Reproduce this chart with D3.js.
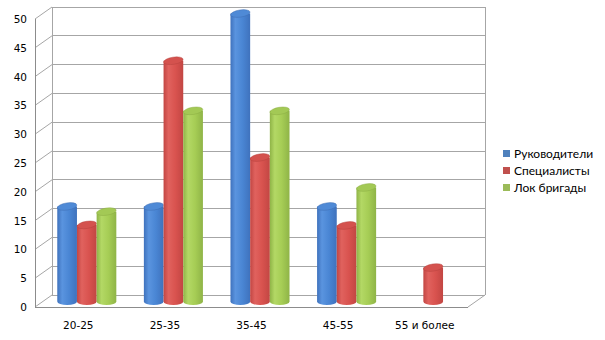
<!DOCTYPE html>
<html><head><meta charset="utf-8">
<script src="https://cdn.jsdelivr.net/npm/d3@7"></script>
<style>body{margin:0;background:#fff}svg{display:block}</style>
</head><body>
<svg id="c" width="605" height="340"></svg>
<script>
const categories = ["20-25", "25-35", "35-45", "45-55", "55 и более"];
const seriesNames = ["Руководители", "Специалисты", "Лок бригады"];
const rukovoditeli = [16.5, 16.5, 50, 16.5, 0];
const specialisty = [13.3, 41.8, 25, 13.2, 5.9];
const lokBrigady = [15.6, 33.1, 33.1, 19.8, 0];
const yTicks = [0, 5, 10, 15, 20, 25, 30, 35, 40, 45, 50];
const seriesValues = [rukovoditeli, specialisty, lokBrigady];
const colors = [
  {base:"#4F81BD", dark:"#3f72bd", mid:"#4a86d4", light:"#5a94df", top:"#4f8ad6", edge:"#3a69ad"},
  {base:"#C0504D", dark:"#c24643", mid:"#d9534f", light:"#e0625e", top:"#d4524e", edge:"#b03f3c"},
  {base:"#9BBB59", dark:"#8fb447", mid:"#a6cd55", light:"#b3d865", top:"#a3c955", edge:"#86a83f"}
];

const svg = d3.select("#c");
const front = {x0: 35, x1: 468, y0: 307, y1: 19};
const depth = {dx: 17, dy: -12};
const yFront = d3.scaleLinear().domain([0, 50]).range([front.y0, front.y1]);
const yBack = v => yFront(v) + depth.dy;
const yMid = v => yFront(v) + depth.dy / 2 + 0.5;
const x = d3.scaleBand().domain(categories).range([front.x0, front.x1]).paddingInner(0).paddingOuter(0);
const inner = d3.scaleBand().domain(d3.range(3)).range([0, x.bandwidth()]).paddingInner(0).paddingOuter(0.7);

const grid = "#a6a6a6";
const g = svg.append("g");
yTicks.forEach(t => {
  g.append("line").attr("x1", front.x0 + depth.dx).attr("x2", front.x1 + depth.dx)
    .attr("y1", yBack(t)).attr("y2", yBack(t)).attr("stroke", grid).attr("stroke-width", 1).attr("shape-rendering","crispEdges");
  g.append("line").attr("x1", front.x0).attr("y1", yFront(t)).attr("x2", front.x0 + depth.dx).attr("y2", yBack(t))
    .attr("stroke", grid).attr("stroke-width", 1);
});
g.append("line").attr("x1", front.x0 + depth.dx).attr("x2", front.x0 + depth.dx).attr("y1", yBack(0)).attr("y2", yBack(50)).attr("stroke", grid).attr("shape-rendering","crispEdges");
g.append("line").attr("x1", front.x1 + depth.dx).attr("x2", front.x1 + depth.dx).attr("y1", yBack(0)).attr("y2", yBack(50)).attr("stroke", grid).attr("shape-rendering","crispEdges");
g.append("line").attr("x1", front.x0).attr("x2", front.x0).attr("y1", yFront(0)).attr("y2", yFront(50)).attr("stroke", "#8c8c8c").attr("shape-rendering","crispEdges");
g.append("line").attr("x1", front.x0).attr("x2", front.x1).attr("y1", yFront(0)).attr("y2", yFront(0)).attr("stroke", "#8c8c8c").attr("shape-rendering","crispEdges");
g.append("line").attr("x1", front.x1).attr("y1", yFront(0)).attr("x2", front.x1 + depth.dx).attr("y2", yBack(0)).attr("stroke", grid);

g.selectAll(".yl").data(yTicks).enter().append("text")
  .attr("x", 27).attr("y", d => yFront(d) + 4).attr("text-anchor", "end")
  .attr("font-family", "DejaVu Sans").attr("font-size", 10.5).attr("fill", "#000").text(d => d);
g.selectAll(".xl").data(categories).enter().append("text")
  .attr("x", d => x(d) + x.bandwidth() / 2).attr("y", 329).attr("text-anchor", "middle")
  .attr("font-family", "DejaVu Sans").attr("font-size", 10.5).attr("fill", "#000").text(d => d);

const defs = svg.append("defs");
colors.forEach((c, i) => {
  const gr = defs.append("linearGradient").attr("id", "g" + i).attr("x1", "0").attr("x2", "1").attr("y1", "0").attr("y2", "0");
  gr.append("stop").attr("offset", "0").attr("stop-color", c.dark);
  gr.append("stop").attr("offset", "0.25").attr("stop-color", c.light);
  gr.append("stop").attr("offset", "0.6").attr("stop-color", c.mid);
  gr.append("stop").attr("offset", "1").attr("stop-color", c.dark);
});

const ry = 3.6;
const bars = g.append("g");
categories.forEach((cat, ci) => {
  seriesValues.forEach((vals, si) => {
    const v = vals[ci];
    if (!v) return;
    const w = inner.bandwidth();
    const xl = x(cat) + inner(si) + depth.dx / 2;
    const rx = w / 2;
    const cx = xl + rx;
    const yb = yMid(0), yt = yMid(v);
    const path = `M${xl},${yt} L${xl},${yb} A${rx},${ry} 0 0 0 ${xl + w},${yb} L${xl + w},${yt} Z`;
    bars.append("path").attr("d", path).attr("fill", `url(#g${si})`);
    bars.append("ellipse").attr("cx", cx).attr("cy", yt).attr("rx", rx).attr("ry", ry)
      .attr("transform", `rotate(-9 ${cx} ${yt})`)
      .attr("fill", colors[si].top).attr("stroke", colors[si].edge).attr("stroke-width", 0.4);
  });
});

const leg = svg.append("g").attr("transform", "translate(503,150)");
seriesNames.forEach((n, i) => {
  leg.append("rect").attr("x", 0).attr("y", i * 17).attr("width", 7).attr("height", 7).attr("fill", colors[i].base);
  leg.append("text").attr("x", 11).attr("y", i * 17 + 7.5).attr("font-family", "Lato").attr("font-size", 12).attr("fill", "#000").text(n);
});
</script>
</body></html>
